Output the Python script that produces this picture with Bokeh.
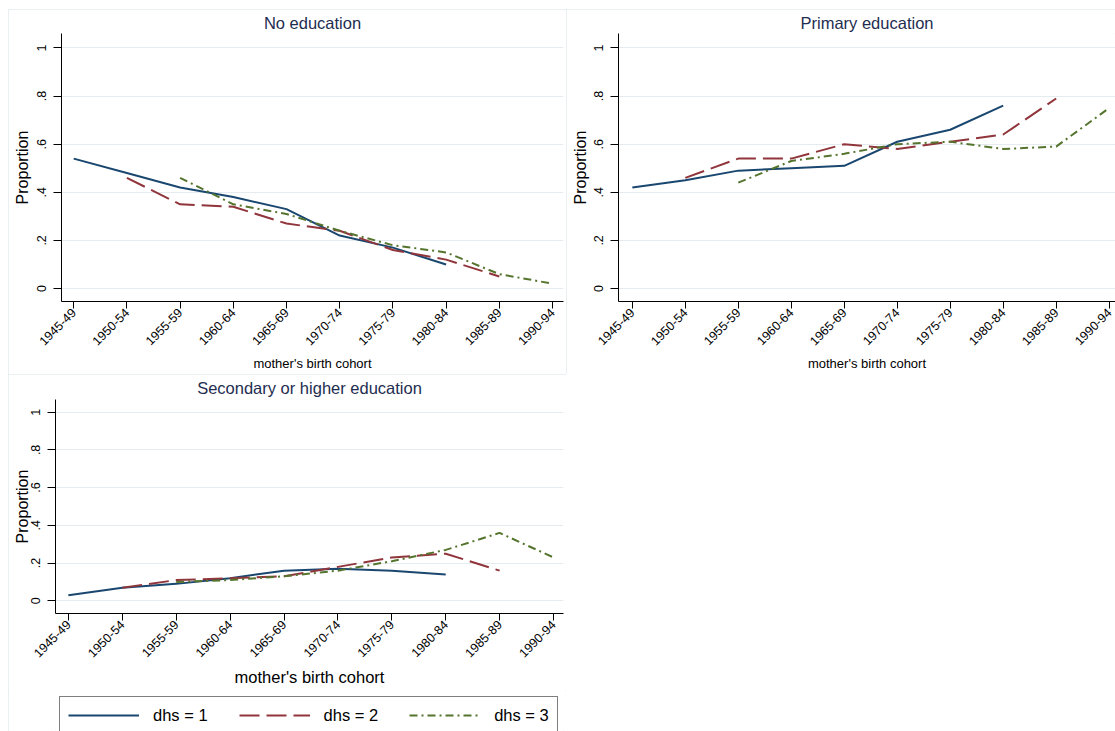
import math
import numpy as np
from bokeh.plotting import figure
from bokeh.models import FixedTicker, Range1d, Legend, LegendItem, Spacer, ColumnDataSource
from bokeh.layouts import row, column
from bokeh.embed import file_html
from bokeh.resources import INLINE

# ---------------- data ----------------
cohorts = ["1945-49", "1950-54", "1955-59", "1960-64", "1965-69",
           "1970-74", "1975-79", "1980-84", "1985-89", "1990-94"]
y_ticks = [0, 0.2, 0.4, 0.6, 0.8, 1]
y_tick_labels = ["0", ".2", ".4", ".6", ".8", "1"]
series_names = ["dhs = 1", "dhs = 2", "dhs = 3"]

noedu_dhs1 = [0.54, 0.48, 0.42, 0.38, 0.33, 0.22, 0.17, 0.10, None, None]
noedu_dhs2 = [None, 0.46, 0.35, 0.34, 0.27, 0.24, 0.16, 0.12, 0.05, None]
noedu_dhs3 = [None, None, 0.46, 0.35, 0.31, 0.24, 0.18, 0.15, 0.06, 0.02]

prim_dhs1 = [0.42, 0.45, 0.49, 0.50, 0.51, 0.61, 0.66, 0.76, None, None]
prim_dhs2 = [None, 0.46, 0.54, 0.54, 0.60, 0.58, 0.61, 0.64, 0.79, None]
prim_dhs3 = [None, None, 0.44, 0.53, 0.56, 0.60, 0.61, 0.58, 0.59, 0.75]

sec_dhs1 = [0.03, 0.07, 0.09, 0.12, 0.16, 0.17, 0.16, 0.14, None, None]
sec_dhs2 = [None, 0.07, 0.11, 0.12, 0.13, 0.18, 0.23, 0.25, 0.16, None]
sec_dhs3 = [None, None, 0.10, 0.11, 0.13, 0.16, 0.21, 0.27, 0.36, 0.23]

panel_titles = ["No education", "Primary education", "Secondary or higher education"]
x_title = "mother's birth cohort"
y_title = "Proportion"

# ---------------- style ----------------
FONT = "Liberation Sans"
colors = ["#1A476F", "#90353B", "#55752F"]
dashes = ["solid", "20 7", "8 4 2 4"]
GRID = "#E4ECEF"
TITLE_COLOR = "#1E2D50"
PANEL_OUTLINE = {"outline": "1px solid #E3EBEE", "outline-offset": "-1px"}

x_idx = list(range(len(cohorts)))


def make_panel(title, series, width, height, borders, xr, yr, title_standoff,
               title_offset, xlab_size, y_std, yl_standoff, outline=True):
    bl, br, bt, bb = borders
    p = figure(width=width, height=height, output_backend="svg", toolbar_location=None,
               x_range=Range1d(*xr), y_range=Range1d(*yr),
               min_border_left=bl, min_border_right=br, min_border_top=bt,
               min_border_bottom=bb)
    if outline:
        p.styles = PANEL_OUTLINE
    p.background_fill_color = "white"
    p.border_fill_color = "white"
    p.outline_line_color = None

    p.title.text = title
    p.title.align = "center"
    p.title.text_font = FONT
    p.title.text_font_size = "16.5px"
    p.title.text_font_style = "normal"
    p.title.text_color = TITLE_COLOR
    p.title.standoff = title_standoff
    p.title.offset = title_offset

    src = ColumnDataSource(dict(
        x=x_idx,
        **{f"s{i}": np.array(v, dtype=float) for i, v in enumerate(series)}))
    for i in range(len(series)):
        p.line("x", f"s{i}", source=src, line_color=colors[i], line_width=2,
               line_dash=dashes[i])

    # x axis
    xa = p.xaxis[0]
    xa.ticker = FixedTicker(ticks=x_idx)
    xa.major_label_overrides = dict(zip(x_idx, cohorts))
    xa.major_label_orientation = math.pi / 4
    xa.major_label_text_font = FONT
    xa.major_label_text_font_size = "12.5px"
    xa.major_label_text_color = "black"
    xa.major_label_standoff = 2
    xa.major_tick_out = 7
    xa.major_tick_in = 0
    xa.minor_tick_line_color = None
    xa.axis_line_color = "black"
    xa.major_tick_line_color = "black"
    xa.axis_label = x_title
    xa.axis_label_text_font = FONT
    xa.axis_label_text_font_size = xlab_size
    xa.axis_label_text_font_style = "normal"
    xa.axis_label_text_color = "black"
    xa.axis_label_standoff = 4

    # y axis
    ya = p.yaxis[0]
    ya.ticker = FixedTicker(ticks=y_ticks)
    ya.major_label_overrides = dict(zip(y_ticks, y_tick_labels))
    ya.major_label_orientation = "vertical"
    ya.major_label_text_font = FONT
    ya.major_label_text_font_size = "12.5px"
    ya.major_label_text_color = "black"
    ya.major_label_standoff = y_std
    ya.major_tick_out = 8
    ya.major_tick_in = 0
    ya.minor_tick_line_color = None
    ya.axis_line_color = "black"
    ya.major_tick_line_color = "black"
    ya.axis_label = y_title
    ya.axis_label_text_font = FONT
    ya.axis_label_text_font_size = "16px"
    ya.axis_label_text_font_style = "normal"
    ya.axis_label_text_color = "black"
    ya.axis_label_standoff = yl_standoff

    p.xgrid.visible = False
    p.ygrid.grid_line_color = GRID
    p.ygrid.grid_line_width = 1.2
    return p


pA = make_panel(panel_titles[0], [noedu_dhs1, noedu_dhs2, noedu_dhs3],
                558, 365, (53, 3, 24, 72), (-0.229, 9.207), (-0.054, 1.060),
                3, 0, "13px", 7, 4)
pB = make_panel(panel_titles[1], [prim_dhs1, prim_dhs2, prim_dhs3],
                549, 365, (52, 0, 24, 72), (-0.261, 9.12), (-0.054, 1.060),
                3, 4, "13px", 7, 3)
pC = make_panel(panel_titles[2], [sec_dhs1, sec_dhs2, sec_dhs3],
                558, 316, (47, 3, 25, 77), (-0.239, 9.185), (-0.067, 1.067),
                5, 0, "16.5px", 7, -2, outline=False)

# ---------------- legend (its own small figure) ----------------
pL = figure(width=558, height=41, output_backend="svg", toolbar_location=None,
            x_range=Range1d(0, 1), y_range=Range1d(0, 1),
            x_axis_type=None, y_axis_type=None,
            min_border_left=0, min_border_right=0, min_border_top=0, min_border_bottom=0)
pL.outline_line_color = None
pL.background_fill_color = "white"
pL.border_fill_color = "white"
leg_rends = [pL.line(x=[np.nan], y=[np.nan], line_color=colors[i], line_width=2,
                     line_dash=dashes[i])
             for i in range(3)]
legend = Legend(items=[LegendItem(label=series_names[i], renderers=[leg_rends[i]])
                       for i in range(3)],
                orientation="horizontal", location=(4, -3))
legend.glyph_width = 71
legend.glyph_height = 20
legend.label_standoff = 14
legend.spacing = 31
legend.padding = 8
legend.margin = 0
legend.label_text_font = FONT
legend.label_text_font_size = "16.5px"
legend.label_text_color = "black"
legend.border_line_color = "black"
legend.border_line_width = 1
legend.background_fill_color = "white"
pL.add_layout(legend)

bottom_panel = column(pC, pL)
bottom_panel.styles = PANEL_OUTLINE

layout = column(
    Spacer(width=1115, height=9),
    row(Spacer(width=8, height=365), pA, pB),
    row(Spacer(width=8, height=357), bottom_panel),
)

open("out.html", "w").write(file_html(layout, INLINE))
